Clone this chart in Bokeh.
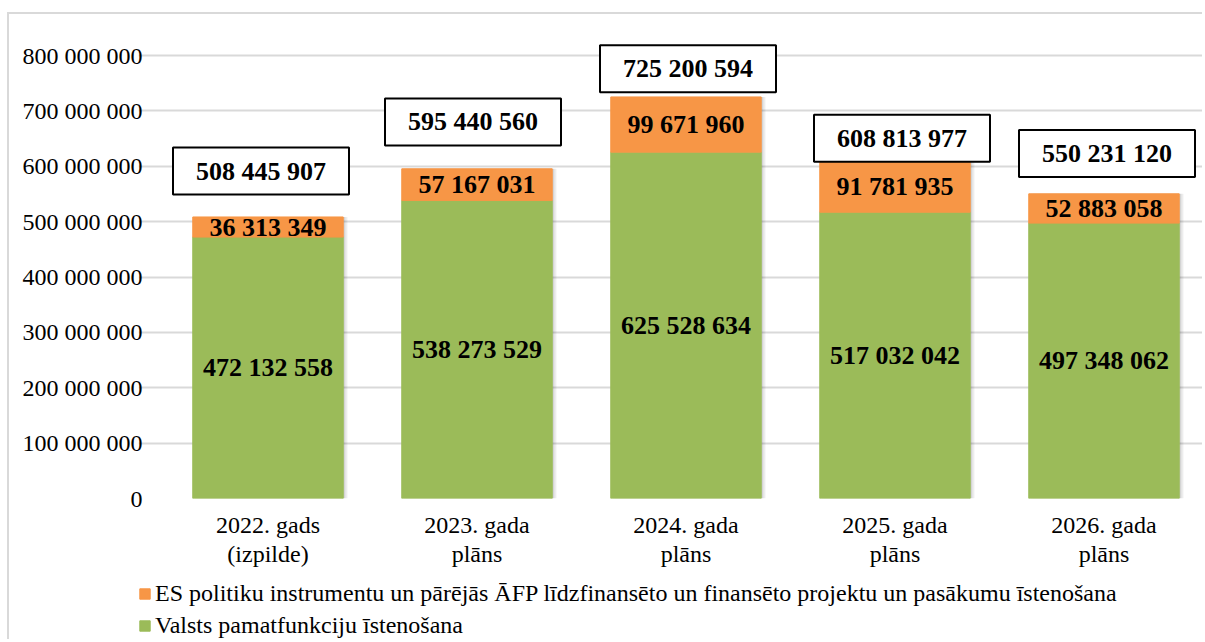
from bokeh.plotting import figure
from bokeh.models import (Range1d, FixedTicker, Legend, LegendItem,
                          ColumnDataSource)
from bokeh.layouts import column
from bokeh.core.properties import value
from bokeh.embed import file_html
from bokeh.resources import INLINE

# ---------------- data ----------------
categories = ["2022. gads\n(izpilde)", "2023. gada\nplāns", "2024. gada\nplāns",
              "2025. gada\nplāns", "2026. gada\nplāns"]
base_values = [472132558, 538273529, 625528634, 517032042, 497348062]
es_values = [36313349, 57167031, 99671960, 91781935, 52883058]
totals = [508445907, 595440560, 725200594, 608813977, 550231120]
series_names = [
    "ES politiku instrumentu un pārējās ĀFP līdzfinansēto un finansēto projektu un pasākumu īstenošana",
    "Valsts pamatfunkciju īstenošana",
]
y_ticks = [0, 100000000, 200000000, 300000000, 400000000,
           500000000, 600000000, 700000000, 800000000]
y_tick_labels = ["0", "100 000 000", "200 000 000", "300 000 000", "400 000 000",
                 "500 000 000", "600 000 000", "700 000 000", "800 000 000"]

# ---------------- styles / placement ----------------
GREEN = "#9bbb59"
ORANGE = "#f79646"
FONT = "Liberation Serif"
BAR_W = 0.72
BORDER = "2px solid #d9d9d9"
# manual placement of the total boxes (value offset above the bar top, px shift)
box_offsets = [83e6, 84.5e6, 51e6, 42e6, 73e6]
box_dx_px = [-7, -4, 2, 7, 3]

def fmt(v):
    return f"{v:,}".replace(",", " ")

xs = list(range(len(categories)))
src = ColumnDataSource(dict(
    x=xs,
    base=base_values,
    es=es_values,
    total=totals,
    zero=[0] * len(xs),
    base_mid=[b / 2 for b in base_values],
    es_mid=[b + e / 2 for b, e in zip(base_values, es_values)],
    base_txt=[fmt(v) for v in base_values],
    es_txt=[fmt(v) for v in es_values],
    tot_txt=[fmt(v) for v in totals],
    box_x=[x + d / 209.0 for x, d in zip(xs, box_dx_px)],
    box_y=[t + o for t, o in zip(totals, box_offsets)],
    sh1=[x + 0.010 for x in xs],
    sh2=[x + 0.020 for x in xs],
))

p = figure(width=1195, height=564,
           x_range=Range1d(-0.6196, 4.4809), y_range=Range1d(0, 850.6e6),
           output_backend="svg", toolbar_location=None,
           min_border_left=129, min_border_right=0,
           min_border_top=13, min_border_bottom=80)
p.styles = {"margin-left": "7px", "margin-top": "12px",
            "border-left": BORDER, "border-top": BORDER}
p.outline_line_color = None
p.background_fill_color = "white"
p.border_fill_color = "white"

# shadows
p.vbar(x="sh2", width=BAR_W, bottom="zero", top="total", source=src,
       fill_color="black", fill_alpha=0.07, line_color=None)
p.vbar(x="sh1", width=BAR_W, bottom="zero", top="total", source=src,
       fill_color="black", fill_alpha=0.10, line_color=None)

r_base = p.vbar(x="x", width=BAR_W, bottom="zero", top="base", source=src,
                fill_color=GREEN, line_color=GREEN, line_width=1)
r_es = p.vbar(x="x", width=BAR_W, bottom="base", top="total", source=src,
              fill_color=ORANGE, line_color=ORANGE, line_width=1)

lbl = dict(text_font=value(FONT), text_font_style="bold", text_font_size="26px",
           text_align="center", text_baseline="middle", text_color="black")
p.text(x="x", y="base_mid", text="base_txt", source=src, **lbl)
p.text(x="x", y="es_mid", text="es_txt", source=src, **lbl)

p.rect(x="box_x", y="box_y", width=176, height=47, width_units="screen",
       height_units="screen", source=src, fill_color="white",
       line_color="black", line_width=2)
p.text(x="box_x", y="box_y", text="tot_txt", source=src, **lbl)

# axes
p.yaxis.ticker = FixedTicker(ticks=y_ticks)
p.yaxis.major_label_overrides = {t: l for t, l in zip(y_ticks, y_tick_labels)}
p.xaxis.ticker = FixedTicker(ticks=xs)
p.xaxis.major_label_overrides = {x: c for x, c in zip(xs, categories)}
for ax in (p.xaxis, p.yaxis):
    ax.axis_line_color = None
    ax.major_tick_line_color = None
    ax.minor_tick_line_color = None
    ax.major_tick_out = 0
    ax.major_tick_in = 0
    ax.minor_tick_out = 0
    ax.major_label_text_font = FONT
    ax.major_label_text_font_size = "24px"
    ax.major_label_text_color = "black"
p.yaxis.major_label_standoff = -4
p.xaxis.major_label_standoff = 13
p.xaxis.major_label_text_line_height = 1.15

p.xgrid.grid_line_color = None
p.ygrid.grid_line_color = "#d9d9d9"
p.ygrid.grid_line_width = 2
p.ygrid.bounds = (-0.5, 5)

# ---------------- legend strip below the chart ----------------
# the strip's bar renderers are hidden; only their legend entries are shown
pl = figure(width=1195, height=63, x_range=Range1d(0, 1), y_range=Range1d(0, 1),
            x_axis_type=None, y_axis_type=None,
            output_backend="svg", toolbar_location=None,
            min_border_left=0, min_border_right=0,
            min_border_top=0, min_border_bottom=0)
pl.styles = {"margin-left": "7px", "border-left": BORDER}
pl.outline_line_color = None
pl.xgrid.visible = False
pl.ygrid.visible = False
leg_base = pl.vbar(x="x", width=BAR_W, bottom="zero", top="base", source=src,
                   fill_color=GREEN, line_color=GREEN, visible=False)
leg_es = pl.vbar(x="x", width=BAR_W, bottom="base", top="total", source=src,
                 fill_color=ORANGE, line_color=ORANGE, visible=False)

legend = Legend(items=[LegendItem(label=series_names[0], renderers=[leg_es]),
                       LegendItem(label=series_names[1], renderers=[leg_base])],
                location=(0, 0), orientation="vertical",
                border_line_color=None, background_fill_alpha=0,
                inactive_fill_alpha=0,
                label_text_font=FONT, label_text_font_size="24px",
                label_text_color="black", label_height=28,
                glyph_width=13, glyph_height=13, label_standoff=4,
                spacing=4, padding=0, margin=0)
pl.add_layout(legend)

layout = column(p, pl, spacing=0)
open("out.html", "w").write(file_html(layout, INLINE))
